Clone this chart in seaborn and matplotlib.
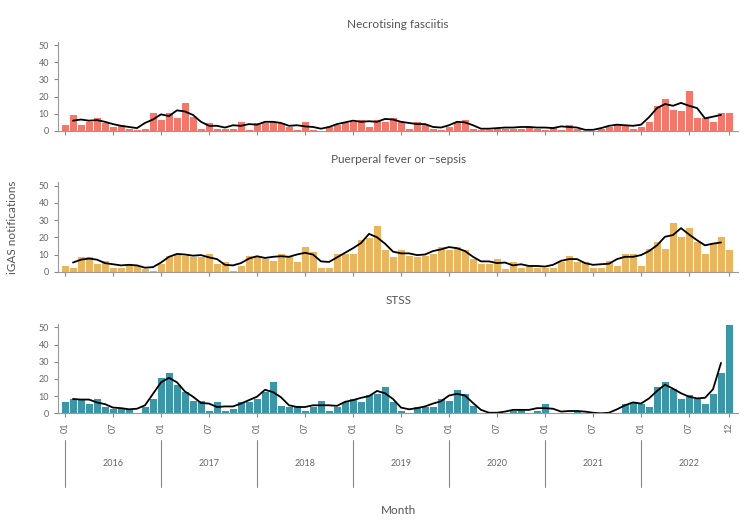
import numpy as np
import pandas as pd
import matplotlib.pyplot as plt
import matplotlib.transforms as mtransforms
import seaborn as sns

# monthly iGAS notifications, Jan 2016 - Dec 2022
months = pd.date_range('2016-01-01', '2022-12-01', freq='MS')
years = [2016, 2017, 2018, 2019, 2020, 2021, 2022]

nf_counts = [4, 10, 4, 6, 8, 5, 3, 4, 2, 1, 2, 11,
             7, 11, 8, 17, 9, 2, 5, 2, 2, 2, 6, 1,
             5, 5, 6, 5, 3, 1, 6, 1, 0, 3, 4, 5,
             6, 7, 3, 7, 6, 8, 6, 2, 6, 4, 2, 1,
             3, 6, 7, 2, 1, 1, 2, 2, 2, 2, 3, 2,
             1, 3, 1, 4, 2, 0, 0, 2, 3, 4, 4, 2,
             3, 6, 15, 19, 13, 12, 24, 8, 8, 6, 11, 11]

pf_counts = [4, 3, 9, 9, 5, 7, 3, 3, 5, 4, 2, 1,
             5, 10, 11, 10, 9, 9, 11, 5, 6, 1, 4, 10,
             9, 8, 7, 11, 9, 6, 15, 12, 3, 3, 11, 11,
             11, 19, 20, 27, 13, 9, 13, 10, 9, 10, 11, 15,
             13, 15, 13, 8, 5, 5, 8, 2, 6, 3, 4, 3,
             3, 3, 6, 10, 6, 6, 3, 3, 7, 4, 11, 11,
             4, 14, 18, 14, 29, 21, 26, 18, 11, 17, 21, 13]

stss_counts = [7, 9, 9, 6, 9, 4, 3, 3, 3, 1, 4, 9,
               21, 24, 17, 13, 8, 8, 2, 7, 2, 3, 7, 7,
               9, 13, 19, 5, 4, 5, 2, 4, 8, 2, 4, 7,
               9, 7, 11, 12, 16, 7, 2, 1, 4, 4, 4, 9,
               8, 14, 12, 5, 1, 0, 0, 1, 2, 3, 1, 2,
               6, 1, 1, 1, 2, 1, 0, 0, 0, 1, 6, 7,
               6, 4, 16, 19, 15, 9, 11, 9, 6, 12, 24, 52]

panels = [('Necrotising fasciitis', nf_counts, '#F4776B'),
          ('Puerperal fever or \u2212sepsis', pf_counts, '#E9B55E'),
          ('STSS', stss_counts, '#3B97A7')]

sns.set_style('ticks')
plt.rcParams['font.family'] = ['Lato', 'DejaVu Sans']

grey = '#666666'
fig = plt.figure(figsize=(7.54, 5.21), dpi=100)

idx = np.arange(len(months))
tick_pos = list(range(0, len(months), 6)) + [len(months) - 1]
tick_lab = [months[i].strftime('%m') for i in tick_pos]

# axes placement (figure fractions) and title baselines
bottoms = [0.7486, 0.4785, 0.2067]
title_y = [1 - 27.5 / 521, 1 - 163.5 / 521, 1 - 304.5 / 521]

axes = []
for k, (title, counts, colour) in enumerate(panels):
    ax = fig.add_axes([0.0769, bottoms[k], 0.9019, 0.1716])
    sns.barplot(x=idx, y=counts, native_scale=True, width=1, color=colour,
                saturation=1, edgecolor='white', linewidth=0.7, ax=ax)
    rolling = pd.Series(counts, dtype=float).rolling(3, center=True).mean()
    sns.lineplot(x=idx, y=rolling.values, color='black', linewidth=1.3, ax=ax)

    ax.set_xlim(-0.875, 84.125)
    ax.set_ylim(0, 52)
    ax.set_yticks([0, 10, 20, 30, 40, 50])
    ax.set_xticks(tick_pos)
    ax.set_xticklabels(tick_lab if k == 2 else [])
    ax.set_xlabel('')
    ax.set_ylabel('')
    ax.tick_params(axis='both', colors='#888888', labelcolor=grey,
                   labelsize=6.5, length=3, width=0.8)
    ax.tick_params(axis='x', labelrotation=90)
    sns.despine(ax=ax)
    for s in ['left', 'bottom']:
        ax.spines[s].set_color('#999999')
        ax.spines[s].set_linewidth(0.8)
    fig.text(0.528, title_y[k], title, ha='center', va='baseline',
             fontsize=8.5, color='#555555')
    axes.append(ax)

axes[1].set_ylabel('iGAS notifications', fontsize=8.5, color='#555555')
axes[1].yaxis.set_label_coords(18 / 754, 0.5, transform=fig.transFigure)
axes[1].yaxis.label.set_transform(mtransforms.blended_transform_factory(
    fig.transFigure, axes[1].transAxes))
axes[1].yaxis.label.set_position((18 / 754, 0.5))

# year grouping under the month ticks
ax = axes[2]
trans = mtransforms.blended_transform_factory(ax.transData, fig.transFigure)
for j, yr in enumerate(years):
    x0 = 12 * j
    ax.plot([x0, x0], [1 - 440 / 521, 1 - 487 / 521], color='#888888',
            linewidth=0.8, transform=trans, clip_on=False)
    ax.text(x0 + 6, 1 - 463 / 521, str(yr), transform=trans, ha='center',
            va='center', fontsize=6.5, color=grey)

fig.text(0.528, 1 - 510 / 521, 'Month', ha='center', va='center',
         fontsize=8.5, color='#555555')

fig.savefig('out.png', dpi=100)
